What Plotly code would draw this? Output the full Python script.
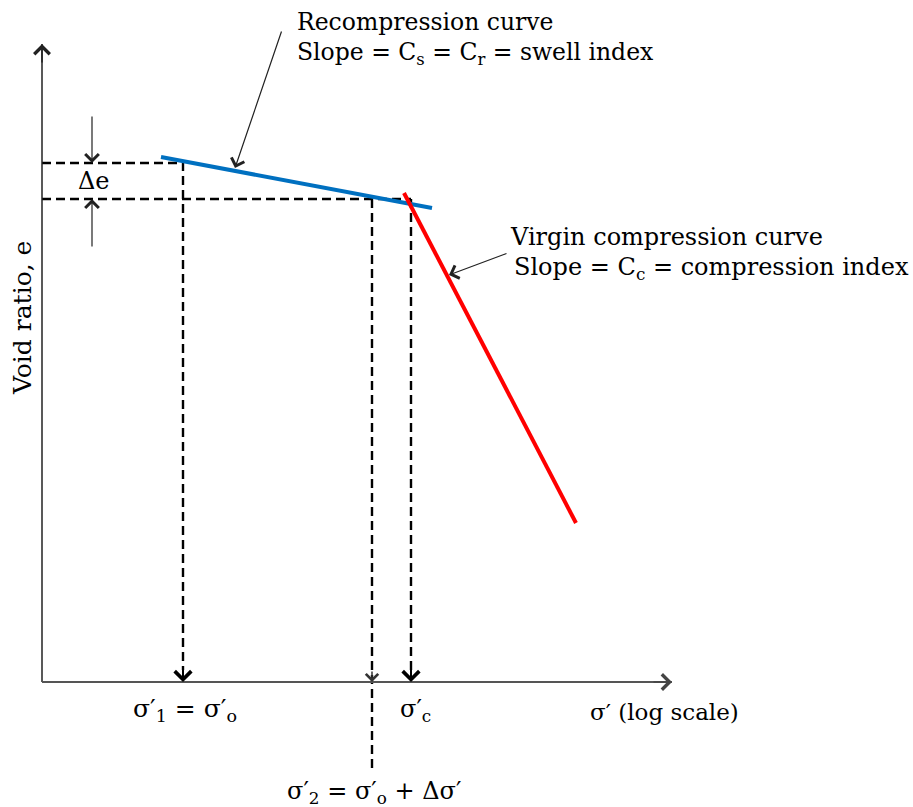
import plotly.graph_objects as go

W, H = 913, 807

# ---- diagram values (chart units: x ~ log sigma', y ~ void ratio e) ----
axis_origin = [42, 125]
x_axis_end = 672
y_axis_top = 763

recomp_x = [161, 432]
recomp_y = [650, 599]
virgin_x = [404, 576]
virgin_y = [614, 284]

sigma1_x = 183
sigma2_x = 372
sigmac_x = 411
e_upper = 644
e_lower = 608
sigma2_bottom = 37

delta_e_x = 92
delta_e_top = 692
delta_e_bottom = 559

BLUE = "#0070C0"
RED = "#FF0000"
SERIF = "DejaVu Serif, Liberation Serif, serif"

fig = go.Figure()

def dashed(xs, ys):
    fig.add_trace(go.Scatter(x=xs, y=ys, mode="lines", hoverinfo="skip",
                             line=dict(color="black", width=2.4, dash="9px,5px"),
                             showlegend=False))

# dashed guide lines
dashed([axis_origin[0], sigma1_x, sigma1_x], [e_upper, e_upper, axis_origin[1] + 12])
dashed([axis_origin[0], sigmac_x], [e_lower, e_lower])
dashed([sigma2_x, sigma2_x], [e_lower, sigma2_bottom])
dashed([sigmac_x, sigmac_x], [e_lower, axis_origin[1] + 12])

# axes lines
fig.add_trace(go.Scatter(x=[axis_origin[0], axis_origin[0]], y=[axis_origin[1], y_axis_top],
                         mode="lines", line=dict(color="#222", width=1.5),
                         hoverinfo="skip", showlegend=False))
fig.add_trace(go.Scatter(x=[axis_origin[0], x_axis_end], y=[axis_origin[1], axis_origin[1]],
                         mode="lines", line=dict(color="#555", width=2),
                         hoverinfo="skip", showlegend=False))

# curves
fig.add_trace(go.Scatter(x=recomp_x, y=recomp_y, mode="lines",
                         line=dict(color=BLUE, width=4), hoverinfo="skip", showlegend=False))
fig.add_trace(go.Scatter(x=virgin_x, y=virgin_y, mode="lines",
                         line=dict(color=RED, width=4), hoverinfo="skip", showlegend=False))

def arrow(x, y, ax, ay, color="#222", width=1.2, size=2.2):
    fig.add_annotation(x=x, y=y, ax=ax, ay=ay, xref="x", yref="y", axref="x", ayref="y",
                       text="", showarrow=True, arrowhead=4, arrowsize=size,
                       arrowwidth=width, arrowcolor=color, standoff=0, startstandoff=0)

# axis arrowheads
arrow(axis_origin[0], y_axis_top, axis_origin[0], y_axis_top - 20, width=1.5, size=2)
arrow(x_axis_end, axis_origin[1], x_axis_end - 20, axis_origin[1], color="#444", width=1.5, size=2)

# dashed line arrowheads at the x axis
arrow(sigma1_x, axis_origin[1], sigma1_x, axis_origin[1] + 14, color="black", width=2, size=1.6)
arrow(sigmac_x, axis_origin[1], sigmac_x, axis_origin[1] + 14, color="black", width=2, size=1.6)
arrow(sigma2_x, axis_origin[1], sigma2_x, axis_origin[1] + 12, color="#333", width=1.5, size=1.6)

# delta e arrows
arrow(delta_e_x, e_upper, delta_e_x, delta_e_top, width=1.2, size=2.2)
arrow(delta_e_x, e_lower, delta_e_x, delta_e_bottom, width=1.2, size=2.2)

# annotation leaders
arrow(235, 639, 282, 777, width=1.2, size=2.2)
arrow(449, 532, 508, 554, width=1.2, size=2.2)

def label(x, y, text, size=23.5, xanchor="left", angle=0, color="black"):
    fig.add_annotation(x=x, y=y, xref="x", yref="y", text=text, showarrow=False,
                       xanchor=xanchor, yanchor="middle", textangle=angle,
                       font=dict(family=SERIF, size=size, color=color))

label(295, 785, "Recompression curve")
label(295, 754, "Slope = C<sub>s</sub> = C<sub>r</sub> = swell index")
label(508, 570, "Virgin compression curve", size=24)
label(512, 539, "Slope = C<sub>c</sub> = compression index", size=24)
label(delta_e_x + 2, 626, "Δe", size=24, xanchor="center")
label(185, 97, "σ′<sub>1</sub> = σ′<sub>o</sub>", size=25, xanchor="center")
label(415, 97, "σ′<sub>c</sub>", size=24, xanchor="center")
label(588, 95, "σ′ (log scale)", size=23)
label(374, 15, "σ′<sub>2</sub> = σ′<sub>o</sub> + Δσ′", size=24, xanchor="center")
label(22, 489, "Void ratio, e", size=25, xanchor="center", angle=-90)

fig.update_layout(
    width=W, height=H, margin=dict(l=0, r=0, t=0, b=0),
    paper_bgcolor="white", plot_bgcolor="white",
    xaxis=dict(range=[0, W], visible=False, fixedrange=True),
    yaxis=dict(range=[0, H], visible=False, fixedrange=True),
    showlegend=False,
)

fig.write_html("out.html", config={"displayModeBar": False},
               post_script="document.body.style.margin='0px';")
